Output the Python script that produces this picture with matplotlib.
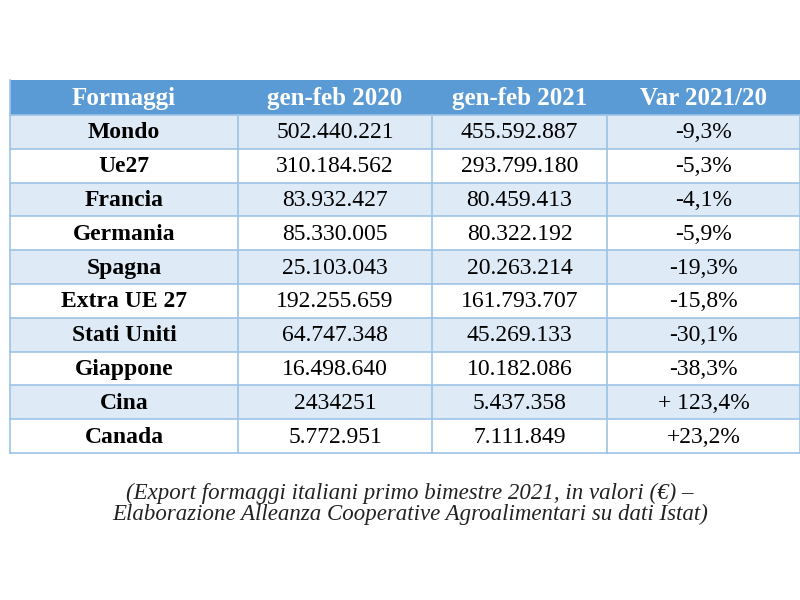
import matplotlib.pyplot as plt
import matplotlib.patches as mpatches

headers = ['Formaggi', 'gen-feb 2020', 'gen-feb 2021', 'Var 2021/20']
paesi = ['Mondo', 'Ue27', 'Francia', 'Germania', 'Spagna', 'Extra UE 27',
         'Stati Uniti', 'Giappone', 'Cina', 'Canada']
valori_2020 = ['502.440.221', '310.184.562', '83.932.427', '85.330.005', '25.103.043',
               '192.255.659', '64.747.348', '16.498.640', '2434251', '5.772.951']
valori_2021 = ['455.592.887', '293.799.180', '80.459.413', '80.322.192', '20.263.214',
               '161.793.707', '45.269.133', '10.182.086', '5.437.358', '7.111.849']
variazioni = ['-9,3%', '-5,3%', '-4,1%', '-5,9%', '-19,3%', '-15,8%',
              '-30,1%', '-38,3%', '+ 123,4%', '+23,2%']
didascalia = ('(Export formaggi italiani primo bimestre 2021, in valori (\u20ac) \u2013\n'
              'Elaborazione Alleanza Cooperative Agroalimentari su dati Istat)')

plt.rcParams['font.family'] = ['Liberation Serif', 'DejaVu Serif']

fig = plt.figure(figsize=(8, 6), dpi=100)
ax = fig.add_axes([0, 0, 1, 1])
ax.set_xlim(0, 800)
ax.set_ylim(600, 0)
ax.axis('off')

col_edges = [10, 238, 432, 607, 800]
header_top, header_bot = 80, 115
row_h = 33.8

blue = '#5b9bd5'
light = '#deeaf6'
line = '#9dc3e6'

# header
ax.add_patch(mpatches.Rectangle((col_edges[0], header_top), col_edges[-1] - col_edges[0],
                                header_bot - header_top, facecolor=blue, edgecolor='none'))
for i, h in enumerate(headers):
    xc = (col_edges[i] + col_edges[i + 1]) / 2
    ax.text(xc, (header_top + header_bot) / 2 + 1, h, color='white', fontsize=18,
            fontweight='bold', ha='center', va='center')

# rows
for r in range(len(paesi)):
    y0 = header_bot + r * row_h
    y1 = y0 + row_h
    fc = light if r % 2 == 0 else 'white'
    ax.add_patch(mpatches.Rectangle((col_edges[0], y0), col_edges[-1] - col_edges[0],
                                    row_h, facecolor=fc, edgecolor='none'))
    yc = (y0 + y1) / 2 + 1
    cells = [paesi[r], valori_2020[r], valori_2021[r], variazioni[r]]
    for i, c in enumerate(cells):
        xc = (col_edges[i] + col_edges[i + 1]) / 2
        ax.text(xc, yc, c, color='black', fontsize=17,
                fontweight='bold' if i == 0 else 'normal', ha='center', va='center')

table_bot = header_bot + len(paesi) * row_h
# grid lines
for r in range(len(paesi) + 1):
    y = header_bot + r * row_h
    ax.plot([col_edges[0], col_edges[-1]], [y, y], color=line, lw=1.2)
for x in col_edges:
    ax.plot([x, x], [header_bot, table_bot], color=line, lw=1.2)
ax.plot([col_edges[0], col_edges[0]], [header_top, header_bot], color=line, lw=1.2)

ax.text(410, 504, didascalia, fontsize=16.5, fontstyle='italic', ha='center', va='center',
        linespacing=1.0, color='#222222')

fig.savefig('out.png', dpi=100)
